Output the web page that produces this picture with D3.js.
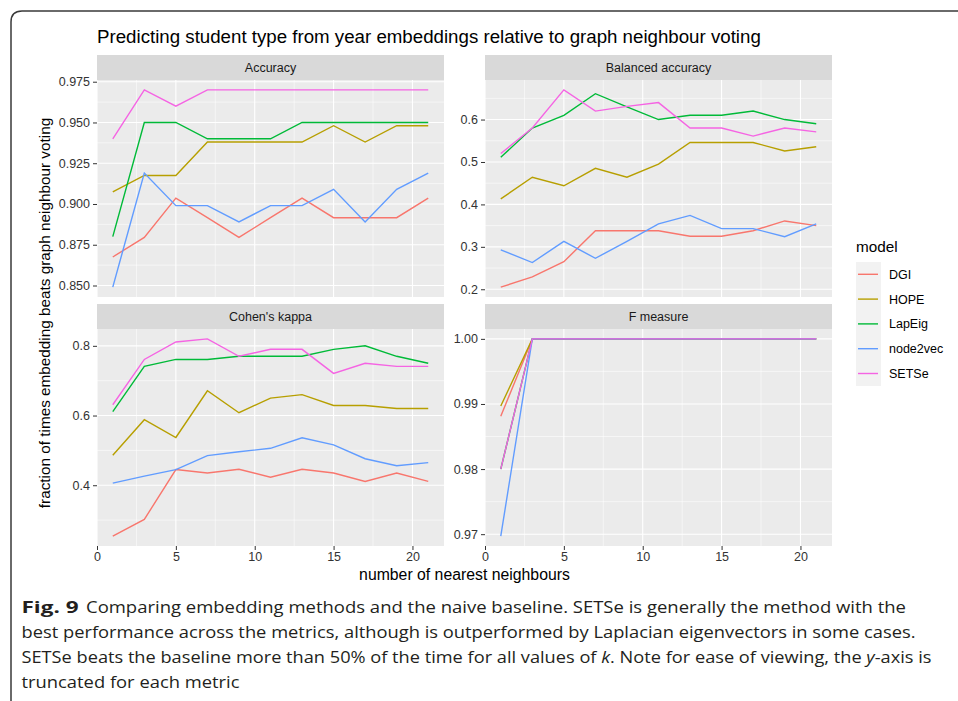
<!DOCTYPE html>
<html>
<head>
  <meta charset="utf-8">
  <title>Embedding methods vs graph neighbour voting</title>
  <script src="https://d3js.org/d3.v7.min.js"></script>
  <style>
    body { margin: 0; background: #fff; }
    svg { display: block; font-family: "Liberation Sans", Arial, sans-serif; }
    .strip rect { fill: #d9d9d9; }
    .strip text { font-size: 12.5px; fill: #1a1a1a; }
    .panel-bg { fill: #ebebeb; }
    .grid-major { stroke: #fff; stroke-width: 1.1px; }
    .grid-minor { stroke: #fff; stroke-width: 0.55px; }
    .axis text { font-size: 12.5px; fill: #333; font-family: "Liberation Sans", Arial, sans-serif; }
    .axis line { stroke: #333; stroke-width: 1px; }
    .series { fill: none; stroke-width: 1.4px; }
    .caption { font-family: "Open Sans", sans-serif; font-size: 16.5px; fill: #231f20; }
  </style>
</head>
<body>
  <svg width="958" height="701"></svg>

  <script>
    // k values (number of nearest neighbours)
    const kValues = [1, 3, 5, 7, 9, 11, 13, 15, 17, 19, 21];
    const models = ["DGI", "HOPE", "LapEig", "node2vec", "SETSe"];
    const colours = ["#F8766D", "#B79F00", "#00BA38", "#619CFF", "#F564E3"];

    // one row per model, same order as `models`
    const accuracy = [
      [0.8675, 0.8795, 0.9036, 0.8916, 0.8795, 0.8916, 0.9036, 0.8916, 0.8916, 0.8916, 0.9036],
      [0.9075, 0.9175, 0.9175, 0.938, 0.938, 0.938, 0.938, 0.948, 0.938, 0.948, 0.948],
      [0.880, 0.950, 0.950, 0.940, 0.940, 0.940, 0.950, 0.950, 0.950, 0.950, 0.950],
      [0.849, 0.919, 0.899, 0.899, 0.889, 0.899, 0.899, 0.909, 0.889, 0.909, 0.919],
      [0.940, 0.970, 0.960, 0.970, 0.970, 0.970, 0.970, 0.970, 0.970, 0.970, 0.970]
    ];
    const balancedAccuracy = [
      [0.205, 0.229, 0.265, 0.338, 0.338, 0.338, 0.325, 0.325, 0.338, 0.361, 0.350],
      [0.413, 0.464, 0.444, 0.485, 0.464, 0.495, 0.546, 0.546, 0.546, 0.526, 0.536],
      [0.511, 0.580, 0.610, 0.661, 0.630, 0.600, 0.610, 0.610, 0.620, 0.600, 0.590],
      [0.293, 0.263, 0.313, 0.273, 0.313, 0.354, 0.374, 0.343, 0.343, 0.324, 0.354],
      [0.520, 0.580, 0.670, 0.620, 0.631, 0.640, 0.580, 0.580, 0.561, 0.580, 0.571]
    ];
    const cohensKappa = [
      [0.254, 0.302, 0.445, 0.435, 0.446, 0.423, 0.446, 0.435, 0.411, 0.435, 0.411],
      [0.486, 0.588, 0.537, 0.671, 0.608, 0.650, 0.660, 0.629, 0.629, 0.620, 0.620],
      [0.611, 0.741, 0.761, 0.761, 0.770, 0.770, 0.770, 0.790, 0.800, 0.770, 0.750],
      [0.406, 0.426, 0.445, 0.485, 0.496, 0.506, 0.536, 0.516, 0.476, 0.456, 0.465],
      [0.631, 0.761, 0.811, 0.820, 0.770, 0.790, 0.790, 0.721, 0.750, 0.741, 0.741]
    ];
    const fMeasure = [
      [0.9881, 1, 1, 1, 1, 1, 1, 1, 1, 1, 1],
      [0.9897, 1, 1, 1, 1, 1, 1, 1, 1, 1, 1],
      [0.980, 1, 1, 1, 1, 1, 1, 1, 1, 1, 1],
      [0.9697, 1, 1, 1, 1, 1, 1, 1, 1, 1, 1],
      [0.980, 1, 1, 1, 1, 1, 1, 1, 1, 1, 1]
    ];

    const panels = [
      { title: "Accuracy", data: accuracy, ticks: [0.85, 0.875, 0.9, 0.925, 0.95, 0.975], step: 0.025, fmt: ".3f", col: 0, row: 0 },
      { title: "Balanced accuracy", data: balancedAccuracy, ticks: [0.2, 0.3, 0.4, 0.5, 0.6], step: 0.1, fmt: ".1f", col: 1, row: 0 },
      { title: "Cohen's kappa", data: cohensKappa, ticks: [0.4, 0.6, 0.8], step: 0.2, fmt: ".1f", col: 0, row: 1 },
      { title: "F measure", data: fMeasure, ticks: [0.97, 0.98, 0.99, 1.0], step: 0.01, fmt: ".2f", col: 1, row: 1 }
    ];
    const xTicks = [0, 5, 10, 15, 20];

    const svg = d3.select("svg");

    // page frame (only top + left edges visible in the crop)
    svg.append("path")
      .attr("d", "M11,701 L11,22 Q11,11 22,11 L958,11")
      .attr("fill", "none")
      .attr("stroke", "#3a3a3a")
      .attr("stroke-width", 1.5);

    svg.append("text")
      .attr("x", 97).attr("y", 43)
      .attr("font-size", "18.7px")
      .attr("fill", "#000")
      .text("Predicting student type from year embeddings relative to graph neighbour voting");

    const colX = [97, 485];
    const rowY = [55, 304];
    const panelW = 347, stripH = 25, plotH = 217;

    // x expanded 5% like ggplot
    const xPad = (d3.max(kValues) - d3.min(kValues)) * 0.05;

    panels.forEach(p => {
      const x0 = colX[p.col], y0 = rowY[p.row];
      const g = svg.append("g").attr("transform", `translate(${x0},${y0})`);

      const strip = g.append("g").attr("class", "strip");
      strip.append("rect").attr("width", panelW).attr("height", stripH);
      strip.append("text")
        .attr("x", panelW / 2).attr("y", stripH / 2 + 4.5)
        .attr("text-anchor", "middle")
        .text(p.title);

      const plot = g.append("g").attr("transform", `translate(0,${stripH})`);

      const x = d3.scaleLinear()
        .domain([d3.min(kValues) - xPad, d3.max(kValues) + xPad])
        .range([0, panelW]);

      const all = p.data.flat();
      const lo = d3.min(all), hi = d3.max(all), pad = (hi - lo) * 0.05;
      const y = d3.scaleLinear().domain([lo - pad, hi + pad]).range([plotH, 0]);

      plot.append("rect").attr("class", "panel-bg").attr("width", panelW).attr("height", plotH);

      const yMinor = p.ticks.map(t => t + p.step / 2).concat([p.ticks[0] - p.step / 2])
        .filter(v => v > y.domain()[0] && v < y.domain()[1]);
      const xMinor = xTicks.map(t => t + 2.5).filter(v => v > x.domain()[0] && v < x.domain()[1]);

      plot.selectAll(".ymin").data(yMinor).enter().append("line")
        .attr("class", "grid-minor")
        .attr("x1", 0).attr("x2", panelW)
        .attr("y1", d => y(d)).attr("y2", d => y(d));
      plot.selectAll(".xmin").data(xMinor).enter().append("line")
        .attr("class", "grid-minor")
        .attr("y1", 0).attr("y2", plotH)
        .attr("x1", d => x(d)).attr("x2", d => x(d));
      plot.selectAll(".ymaj").data(p.ticks).enter().append("line")
        .attr("class", "grid-major")
        .attr("x1", 0).attr("x2", panelW)
        .attr("y1", d => y(d)).attr("y2", d => y(d));
      plot.selectAll(".xmaj").data(xTicks).enter().append("line")
        .attr("class", "grid-major")
        .attr("y1", 0).attr("y2", plotH)
        .attr("x1", d => x(d)).attr("x2", d => x(d));

      const line = d3.line()
        .x((d, i) => x(kValues[i]))
        .y(d => y(d));

      plot.selectAll("path.series")
        .data(p.data)
        .enter().append("path")
        .attr("class", "series")
        .attr("stroke", (d, i) => colours[i])
        .attr("d", line);

      const yAxis = plot.append("g").attr("class", "axis")
        .call(d3.axisLeft(y).tickValues(p.ticks).tickFormat(d3.format(p.fmt)).tickSize(4).tickPadding(3));
      yAxis.select(".domain").remove();

      if (p.row === 1) {
        const xAxis = plot.append("g").attr("class", "axis")
          .attr("transform", `translate(0,${plotH})`)
          .call(d3.axisBottom(x).tickValues(xTicks).tickSize(4).tickPadding(2));
        xAxis.select(".domain").remove();
      }
    });

    // axis titles
    svg.append("text")
      .attr("x", 464.5).attr("y", 580)
      .attr("text-anchor", "middle")
      .attr("font-size", "15.8px")
      .text("number of nearest neighbours");

    svg.append("text")
      .attr("transform", "translate(50,313) rotate(-90)")
      .attr("text-anchor", "middle")
      .attr("font-size", "15.3px")
      .text("fraction of times embedding beats graph neighbour voting");

    // legend
    const legend = svg.append("g").attr("transform", "translate(856,252)");
    legend.append("text").attr("x", 0).attr("y", 0).attr("font-size", "15.3px").text("model");
    legend.append("rect").attr("x", 0).attr("y", 10).attr("width", 25).attr("height", 124).attr("fill", "#f2f2f2");
    const item = legend.selectAll(".item").data(models).enter().append("g")
      .attr("transform", (d, i) => `translate(0,${22.3 + i * 24.8})`);
    item.append("line")
      .attr("x1", 2).attr("x2", 22)
      .attr("stroke", (d, i) => colours[i])
      .attr("stroke-width", 1.4);
    item.append("text")
      .attr("x", 33).attr("y", 4.5)
      .attr("font-size", "12.5px")
      .text(d => d);

    // figure caption
    const cap = svg.append("g").attr("class", "caption");
    cap.append("text").attr("x", 21.5).attr("y", 613).attr("font-weight", "bold")
      .attr("textLength", 57).attr("lengthAdjust", "spacingAndGlyphs")
      .text("Fig. 9");
    cap.append("text").attr("x", 86).attr("y", 613)
      .attr("textLength", 820).attr("lengthAdjust", "spacingAndGlyphs")
      .text("Comparing embedding methods and the naive baseline. SETSe is generally the method with the");
    cap.append("text").attr("x", 21.5).attr("y", 638)
      .attr("textLength", 894).attr("lengthAdjust", "spacingAndGlyphs")
      .text("best performance across the metrics, although is outperformed by Laplacian eigenvectors in some cases.");
    const l3 = cap.append("text").attr("x", 21.5).attr("y", 663)
      .attr("textLength", 910).attr("lengthAdjust", "spacingAndGlyphs");
    l3.append("tspan").text("SETSe beats the baseline more than 50% of the time for all values of ");
    l3.append("tspan").attr("font-style", "italic").text("k");
    l3.append("tspan").text(". Note for ease of viewing, the ");
    l3.append("tspan").attr("font-style", "italic").text("y");
    l3.append("tspan").text("-axis is");
    cap.append("text").attr("x", 21.5).attr("y", 688)
      .attr("textLength", 218).attr("lengthAdjust", "spacingAndGlyphs")
      .text("truncated for each metric");
  </script>
</body>
</html>
